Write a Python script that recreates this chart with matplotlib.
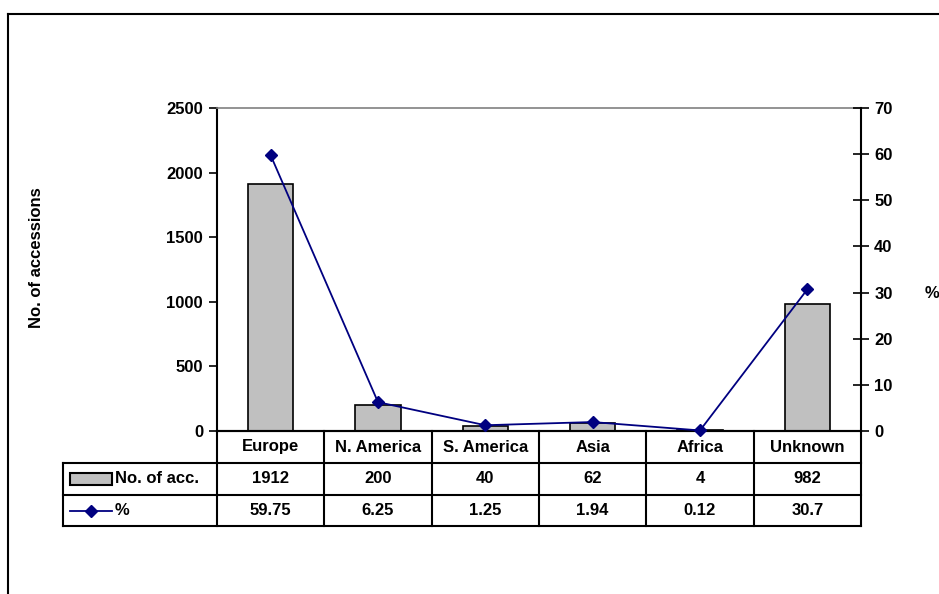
import matplotlib
matplotlib.use("Agg")
import matplotlib.pyplot as plt
from matplotlib.lines import Line2D
from matplotlib.patches import Rectangle
import matplotlib.transforms as mtransforms

plt.rcParams['font.family'] = ['Liberation Sans', 'DejaVu Sans']
plt.rcParams['font.weight'] = 'bold'

categories = ["Europe", "N. America", "S. America", "Asia", "Africa", "Unknown"]
accessions = [1912, 200, 40, 62, 4, 982]
percent = [59.75, 6.25, 1.25, 1.94, 0.12, 30.7]
acc_labels = ["1912", "200", "40", "62", "4", "982"]
pct_labels = ["59.75", "6.25", "1.25", "1.94", "0.12", "30.7"]
left_ticks = [0, 500, 1000, 1500, 2000, 2500]
right_ticks = [0, 10, 20, 30, 40, 50, 60, 70]

FS = 12
W, H = 939, 594
fig = plt.figure(figsize=(W / 100, H / 100), dpi=100)

def fx(px):
    return px / W

def fy(py):
    return 1 - py / H

ax = fig.add_axes([fx(217), fy(431), fx(861) - fx(217), fy(108) - fy(431)])
ax2 = ax.twinx()

x = list(range(len(categories)))
ax.bar(x, accessions, width=0.42, color="#c0c0c0", edgecolor="black", linewidth=1.2, zorder=2)
ax.set_xlim(-0.5, len(categories) - 0.5)
ax.set_ylim(0, 2500)
ax.set_yticks(left_ticks)
ax.set_xticks([])
ax.tick_params(axis='y', direction='out', length=6, width=1.2, labelsize=FS, pad=4)
for lab in ax.get_yticklabels():
    lab.set_fontweight('bold')
ax.spines['top'].set_color('#808080')
ax.spines['top'].set_linewidth(1.2)
ax.spines['left'].set_linewidth(1.5)
ax.spines['bottom'].set_linewidth(1.5)
ax.spines['right'].set_visible(False)
ax.set_ylabel("No. of accessions", fontsize=FS, fontweight='bold')
ax.yaxis.set_label_coords((fx(44) - fx(217)) / (fx(861) - fx(217)), (431 - 258) / 323)

ax2.plot(x, percent, color="#000080", linewidth=1.3, marker='D', markersize=6.5,
         markerfacecolor="#000080", markeredgecolor="#000080", zorder=3, clip_on=False)
ax2.set_ylim(0, 70)
ax2.set_yticks(right_ticks)
ax2.tick_params(axis='y', direction='inout', length=11, width=1.2, labelsize=FS, pad=4)
for lab in ax2.get_yticklabels():
    lab.set_fontweight('bold')
for s in ['top', 'left', 'bottom']:
    ax2.spines[s].set_visible(False)
ax2.spines['right'].set_linewidth(1.5)
ax2.set_ylabel("%", rotation=0, fontsize=FS, fontweight='bold')
ax2.yaxis.set_label_coords((fx(932) - fx(217)) / (fx(861) - fx(217)), 0.45)

# Data table below the axes (x in data coords, y in axes fraction)
trans = mtransforms.blended_transform_factory(ax.transData, ax.transAxes)
axh = 431 - 108
rows_px = [431, 463, 495, 526]
rows = [(431 - r) / axh for r in rows_px]
col_w = (861 - 217) / len(categories)
x_left = -0.5 - (217 - 63) / col_w
n = len(categories)
lw = 1.5

def hline(xa, xb, y):
    ax.add_line(Line2D([xa, xb], [y, y], transform=trans, color='black', lw=lw, clip_on=False))

def vline(xv, ya, yb):
    ax.add_line(Line2D([xv, xv], [ya, yb], transform=trans, color='black', lw=lw, clip_on=False))

hline(-0.5, n - 0.5, rows[0])
hline(x_left, n - 0.5, rows[1])
hline(x_left, n - 0.5, rows[2])
hline(x_left, n - 0.5, rows[3])
for k in range(n + 1):
    vline(k - 0.5, rows[0], rows[3])
vline(x_left, rows[1], rows[3])

mid = [(rows[i] + rows[i + 1]) / 2 for i in range(3)]
for i in range(n):
    ax.text(i, mid[0], categories[i], transform=trans, ha='center', va='center',
            fontsize=FS, fontweight='bold', clip_on=False)
    ax.text(i, mid[1], acc_labels[i], transform=trans, ha='center', va='center',
            fontsize=FS, fontweight='bold', clip_on=False)
    ax.text(i, mid[2], pct_labels[i], transform=trans, ha='center', va='center',
            fontsize=FS, fontweight='bold', clip_on=False)

# legend keys in the table
kx0 = x_left + (70 - 63) / col_w
kx1 = x_left + (112 - 63) / col_w
kh = 12 / axh
ax.add_patch(Rectangle((kx0, mid[1] - kh / 2), kx1 - kx0, kh, transform=trans,
                       facecolor="#c0c0c0", edgecolor='black', lw=1.5, clip_on=False))
ax.add_line(Line2D([kx0, kx1], [mid[2], mid[2]], transform=trans, color="#000080", lw=1.3, clip_on=False))
ax.add_line(Line2D([(kx0 + kx1) / 2], [mid[2]], transform=trans, color="#000080", marker='D',
                   markersize=6.5, lw=0, clip_on=False))
tx = x_left + (115 - 63) / col_w
ax.text(tx, mid[1], "No. of acc.", transform=trans, ha='left', va='center',
        fontsize=FS, fontweight='bold', clip_on=False)
ax.text(tx, mid[2], "%", transform=trans, ha='left', va='center',
        fontsize=FS, fontweight='bold', clip_on=False)

# outer chart border (top and left visible)
fig.add_artist(Line2D([fx(8), 1], [fy(14), fy(14)], transform=fig.transFigure, color='black', lw=1.5))
fig.add_artist(Line2D([fx(8), fx(8)], [fy(14), 0], transform=fig.transFigure, color='black', lw=1.5))

fig.savefig("out.png", dpi=100)
